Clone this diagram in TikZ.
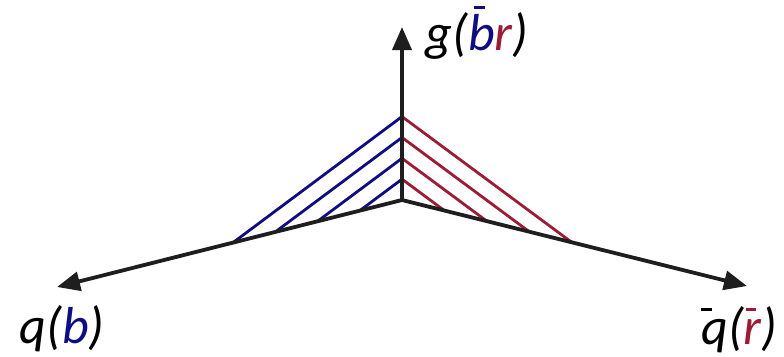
\documentclass[tikz,border=0pt]{standalone}
\usepackage{fontspec}
\setmainfont{Carlito}
\usetikzlibrary{arrows.meta,calc}
\definecolor{qblue}{RGB}{14,14,130}
\definecolor{qred}{RGB}{155,28,52}
\definecolor{axis}{RGB}{30,30,30}
% bar over a letter: raise, kern, width, letter
\newcommand\obar[4]{\leavevmode\rlap{\kern#2\raisebox{#1}{\rule{#3}{3pt}}}#4}
\tikzset{
  axisarrow/.style={draw=axis, line width=3.8pt, -{Triangle[length=23pt,width=19pt]}},
  blueline/.style={draw=qblue, line width=2.8pt},
  redline/.style={draw=qred, line width=2.8pt},
  lbl/.style={inner sep=0pt, anchor=base, font=\fontsize{52}{60}\selectfont\itshape}
}
\begin{document}
\begin{tikzpicture}[x=1pt,y=-1pt]
\useasboundingbox (0,0) rectangle (784,356);
\coordinate (V) at (402,200);
\coordinate (U) at (402,27);
\coordinate (L) at (57,287);
\coordinate (R) at (747,286);
\foreach \k in {1,2,3,4}{
  \coordinate (u\k) at ($(V)!{0.1205*\k}!(U)$);
  \coordinate (l\k) at ($(V)!{0.1225*\k}!(L)$);
  \coordinate (r\k) at ($(V)!{0.1230*\k}!(R)$);
  \draw[blueline] (l\k) -- (u\k);
  \draw[redline] (r\k) -- (u\k);
}
\draw[axisarrow] (V) -- (U);
\draw[axisarrow] (V) -- (L);
\draw[axisarrow] (V) -- (R);
\node[lbl] (g) at (477,50) {g(\textcolor{qblue}{\obar{41pt}{6pt}{11pt}{b}}\textcolor{qred}{r})};
\node[lbl] (q) at (62,343) {q(\textcolor{qblue}{b})};
\node[lbl] (qb) at (739.5,344) {\obar{33pt}{0pt}{11pt}{q}(\textcolor{qred}{\obar{33pt}{1.7pt}{10.5pt}{r}})};
\end{tikzpicture}
\end{document}
